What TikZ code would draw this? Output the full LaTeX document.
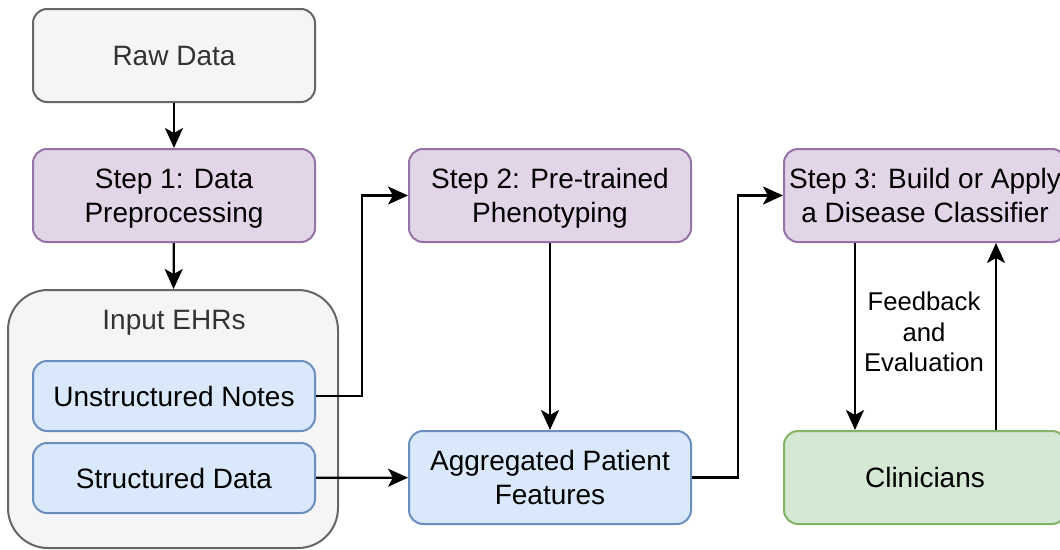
\documentclass[tikz,border=0pt]{standalone}
\usepackage{fontspec}
\setmainfont{Liberation Sans}
\usetikzlibrary{positioning, arrows.meta}
\definecolor{RawFill}{HTML}{F5F5F5}
\definecolor{RawLine}{HTML}{666666}
\definecolor{RawText}{HTML}{333333}
\definecolor{StepFill}{HTML}{E1D5E7}
\definecolor{StepLine}{HTML}{9673A6}
\definecolor{DataFill}{HTML}{DAE8FC}
\definecolor{DataLine}{HTML}{6C8EBF}
\definecolor{UserFill}{HTML}{D5E8D4}
\definecolor{UserLine}{HTML}{82B366}
\tikzstyle{base_box}=[rectangle,
        draw,
        line width=2pt,
        rounded corners=14pt,
        minimum width=282pt,
        minimum height=93pt,
        inner sep=0pt,
        text depth=0pt,
        align=center,
        font=\fontsize{28}{34}\selectfont, ]
\tikzstyle{raw_box}=[base_box, fill=RawFill, draw=RawLine, text=RawText]
\tikzstyle{step_box}=[base_box, fill=StepFill, draw=StepLine]
\tikzstyle{data_box}=[base_box, fill=DataFill, draw=DataLine]
\tikzstyle{user_box}=[base_box, fill=UserFill, draw=UserLine]
\tikzstyle{flow_arrow}=[line width=2.2pt, -{Stealth[length=20pt, width=18pt, inset=5pt]}]

\begin{document}
\begin{tikzpicture}[x=1pt, y=-1pt]
    \useasboundingbox (0,0) rectangle (1060,549);

    % left column
    \node at (174, 55.5) (raw_data) [raw_box] {Raw Data};
    \node at (174, 195.5) (step_one) [step_box] {Step 1: Data\\Preprocessing};
    \node at (173, 419) (input_ehrs) [raw_box, minimum width=330pt, minimum height=258pt, rounded corners=40pt] {};
    \node at (174, 323) (ehr_title) [text=RawText, font=\fontsize{28}{34}\selectfont] {Input EHRs};
    \node at (174, 396) (unstructured) [data_box, minimum height=70pt] {Unstructured Notes};
    \node at (174, 478) (structured) [data_box, minimum height=70pt] {Structured Data};

    % middle and right columns
    \node at (550, 195.5) (step_two) [step_box] {Step 2: Pre-trained\\Phenotyping};
    \node at (550, 477.5) (aggregated) [data_box] {Aggregated Patient\\Features};
    \node at (925, 195.5) (step_three) [step_box] {Step 3: Build or Apply\\a Disease Classifier};
    \node at (925, 477.5) (clinicians) [user_box] {Clinicians};
    \node at (924, 332) (feedback) [align=center, font=\fontsize{25.7}{30.5}\selectfont] {Feedback\\and\\Evaluation};

    \draw[flow_arrow] (raw_data) -- (step_one);
    \draw[flow_arrow] (step_one) -- (input_ehrs);
    \draw[flow_arrow] (unstructured.east) -- ++(46,0) |- (step_two.west);
    \draw[flow_arrow] (structured) -- (aggregated);
    \draw[flow_arrow] (step_two) -- (aggregated);
    \draw[flow_arrow] (aggregated.east) -- ++(46,0) |- (step_three.west);
    \draw[flow_arrow] ([xshift=-70pt]step_three.south) -- ([xshift=-70pt]clinicians.north);
    \draw[flow_arrow] ([xshift=71pt]clinicians.north) -- ([xshift=71pt]step_three.south);

\end{tikzpicture}
\end{document}
